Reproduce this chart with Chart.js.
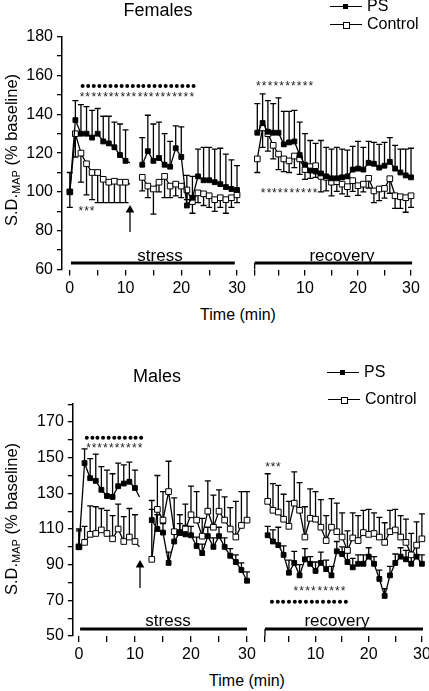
<!DOCTYPE html>
<html lang="en">
<head>
<meta charset="UTF-8" />
<title>S.D.MAP during stress and recovery</title>
<script src="https://cdn.jsdelivr.net/npm/chart.js"></script>
<style>
  body { margin: 0; background: #fff; font-family: "Liberation Sans", Arial, sans-serif; }
  #fig { position: relative; width: 429px; height: 691px; overflow: hidden; background: #fff; }
  #fig canvas { position: absolute; }
  .txt { position: absolute; transform: translate(-50%, -50%); white-space: nowrap; color: #000; line-height: 1; }
  .title { font-size: 18px; }
  .axt { font-size: 16px; }
  .phase { font-size: 17px; }
  .ytitle { font-size: 16.5px; transform: translate(-50%, -50%) rotate(-90deg); }
  .ytitle sub { font-size: 11px; vertical-align: -3px; }
  .leg { position: absolute; font-size: 16px; line-height: 1; white-space: nowrap; transform: translateY(-50%); }
  .leg .ln { display: inline-block; position: relative; width: 32px; height: 1.3px; background: #000; vertical-align: middle; margin-right: 5px; }
  .leg .sq { position: absolute; left: 13px; top: -2px; width: 5px; height: 5px; background: #000; }
  .leg .sq.open { background: #fff; border: 1px solid #000; top: -2.5px; }
</style>
</head>
<body>
<div id="fig">
  <canvas id="femStress" width="252" height="300" style="left:0;top:0"></canvas>
  <canvas id="femRec" width="189" height="300" style="left:240px;top:0"></canvas>
  <canvas id="maleStress" width="262" height="336" style="left:0;top:330px"></canvas>
  <canvas id="maleRec" width="179" height="336" style="left:250px;top:330px"></canvas>

  <div class="txt title" style="left:158px;top:10px">Females</div>
  <div class="leg" style="left:330px;top:6px"><span class="ln"><i class="sq"></i></span>PS</div>
  <div class="leg" style="left:330px;top:24px"><span class="ln"><i class="sq open"></i></span>Control</div>
  <div class="txt ytitle" style="left:12px;top:150px">S.D.<sub>MAP</sub> (% baseline)</div>
  <div class="txt phase" style="left:160px;top:255px">stress</div>
  <div class="txt phase" style="left:342px;top:255px">recovery</div>
  <div class="txt axt" style="left:238px;top:315px">Time (min)</div>

  <div class="txt title" style="left:157px;top:376px">Males</div>
  <div class="leg" style="left:327px;top:372px"><span class="ln"><i class="sq"></i></span>PS</div>
  <div class="leg" style="left:328px;top:399px"><span class="ln"><i class="sq open"></i></span>Control</div>
  <div class="txt ytitle" style="left:12px;top:519px">S.D.<sub>MAP</sub> (% baseline)</div>
  <div class="txt phase" style="left:168px;top:620px">stress</div>
  <div class="txt phase" style="left:337px;top:620px">recovery</div>
  <div class="txt axt" style="left:247px;top:681px">Time (min)</div>
</div>

<script>
  // time points (min); 10.8 is the end of the first stress segment (line only), 12 breaks the line
  const stressTimes = [0,1,2,3,4,5,6,7,8,9,10,10.8,12,13,14,15,16,17,18,19,20,21,22,23,24,25,26,27,28,29,30];
  const recoveryTimes = [1,2,3,4,5,6,7,8,9,10,11,12,13,14,15,16,17,18,19,20,21,22,23,24,25,26,27,28,29,30];

  // axis ticks
  const stressXTicks = [0,5,10,15,20,25,30];
  const stressXLabels = [0,10,20,30];
  const recXTicks = [0.5,5,10,15,20,25,30];
  const recXLabels = [10,20,30];
  const femYTicks = [60,70,80,90,100,110,120,130,140,150,160,170,180];
  const femYLabels = [60,80,100,120,140,160,180];
  const maleYTicks = [50,60,70,80,90,100,110,120,130,140,150,160,170,180];
  const maleYLabels = [50,70,90,110,130,150,170];

  // females
  const femPsStress = [100,137,130,130,128,130,126,125,123,119,116,115,null,114,121,116,117.5,114,113,122.5,118,93,97,108,106,106,105,104,102.5,101.5,101];
  const femPsStressErr = [10,10,15,14,14,13,13,14,13,16,16,null,null,14,18.5,19,18.5,16,13,11.5,15.5,15.5,11,14,17,17,17,18.5,17,15,12.5];
  const femCtlStress = [100,130,120,114.5,110,110,106.5,105,105.5,105,105,104,null,107.5,103,101.5,105,108,103,104,103,101,95,99.5,99,98,96,97,96,97,98.5];
  const femCtlStressErr = [8,12,15,16,14,15.5,12,10.5,11,10.5,10.5,null,null,7,6,13,5,11,6,6,6,5,6,5,6,6,6,5,7,5,4];
  const femPsRec = [130.5,135.5,131,130.5,130.5,124.5,125.5,126,119,114,111,110.5,109.5,108,107,107,107.5,108,111.5,112,111.5,115,114.5,112.5,113.5,115.5,112,110,108.5,107.5];
  const femPsRecErr = [15,15,16,15,18,17,16,16,17,16,15.5,14.5,17,15,15,16,14.5,13.5,12,14,11.5,11,11,12,12,12.5,12,12,13.5,15];
  const femCtlRec = [117,133,130,124,119.5,117,116,118.5,117,111.5,113,113.5,108,107.5,105,105.3,104,102.7,105.8,103.2,104,107,100.5,101.5,101.8,106.8,98,97.5,97,98];
  const femCtlRecErr = [7,10,9,7,8,6.5,6,6,8,5,6,6,8,7,7,5,5,5,5.5,5,4,5,6,6,5,7.5,6.5,6,7.5,6];

  // males
  const malePsStress = [100,147,138.5,137,132,128.5,128,134,135.5,136.5,133,128,null,115,110,108,91,103,108,107,106.5,100.5,96.5,106,100,106,100,95,91.5,87,81];
  const malePsStressErr = [10,8,11,15,13,14.5,13,13,10.5,11,10,null,null,6,8,5,6,6,5,5,5,5,5,5,5,5,5,4,4,4,5];
  const maleCtlStress = [100,102.5,107,107.5,109.5,107.5,104.5,110,103,105.5,103,100,null,93,121,115,131,108.5,108,110,118,115,106,120,111,120,115,110,105.5,112,115];
  const maleCtlStressErr = [9,9,16,15,12,13,13,14,14,16,15,null,null,33,19,16,17,19,10,14,16,16,10,17,18,12,13,12,20,19,16];
  const malePsRec = [106.5,103,101,95.5,85.5,91,84,93,90.5,86.5,91,87.5,84,97.5,96,91.5,88.5,90.5,90.5,94.5,90.5,82,72.5,84,91,94.5,93,90.5,94.5,90.5];
  const malePsRecErr = [5,6.5,10,5,7,6.5,6,6,4,5,6,5,5,5.5,4,5,5,5,5,5,4,5,4,5,5,5,5,5,5,5];
  const maleCtlRec = [125.5,120.5,119.5,115.5,111.5,124.5,120.5,105.5,116,115.5,111,103.5,111,108.5,105.5,98,105,103.5,108,107,107.5,105.5,102.5,108.5,109.5,105.5,102.5,95.5,101,104.5];
  const maleCtlRecErr = [15.5,15,15,14,14,17.5,15.5,17,16.5,15.5,15.5,14,16,16,13.5,11,14,14,12.5,14,11.5,11,11,12,11.5,12,13,12,13,14];

  // significance marks (x in min, y in % baseline)
  const femStressDotsX = [2.3,3.3,4.3,5.3,6.3,7.3,8.3,9.3,10.3,11.3,12.3,13.2,14.2,15.2,16.2,17.2,18.2,19.2,20.2,21.2,22.2];
  const femStressDotsY = 154.6;
  const femStressStarsX = [2.2,3.2,4.3,5.3,6.4,7.4,8.4,9.5,10.5,11.5,12.6,13.6,14.6,15.7,16.7,17.7,18.8,19.8,20.8,21.9];
  const femStressStarsY = 150.2;
  const femStressLowStarsX = [2,3,4];
  const femStressLowStarsY = 91.5;
  const femRecHiStarsX = [1.2,2.3,3.4,4.5,5.6,6.7,7.8,8.9,10,11.1];
  const femRecHiStarsY = 156;
  const femRecLoStarsX = [2.1,3.2,4.2,5.3,6.4,7.5,8.6,9.7,10.8,11.9];
  const femRecLoStarsY = 100.6;
  const maleStressDotsX = [1.4,2.4,3.3,4.3,5.3,6.3,7.2,8.2,9.2,10.1,11.1];
  const maleStressDotsY = 161.2;
  const maleStressStarsX = [1.7,2.7,3.7,4.7,5.8,6.8,7.8,8.8,9.9,10.9];
  const maleStressStarsY = 156.5;
  const maleRecHiStarsX = [1,2,3];
  const maleRecHiStarsY = 146;
  const maleRecLoStarsX = [6.3,7.4,8.5,9.6,10.8,11.9,13,14.1,15.2];
  const maleRecLoStarsY = 76.7;
  const maleRecDotsX = [1.8,2.9,3.9,5,6.1,7.1,8.2,9.3,10.3,11.4,12.5,13.5,14.6,15.7];
  const maleRecDotsY = 69.2;

  // stress / recovery bars and arrows
  const femStressBarX = [0.2,29.6];
  const maleStressBarX = [0.2,30];
  const recBarX = [0.5,30.2];
  const femBarY = 63.3;
  const maleBarY = 53.9;
  const femArrowX = 10.8, femArrowY = [79.3,90.7];
  const maleArrowX = 10.9, maleArrowY = [76.9,89.8];

  const BLACK = "#000";
  const FONT = '"Liberation Sans", Arial, sans-serif';

  function pts(times, vals) {
    return times.map((t, i) => ({ x: t, y: vals[i] }));
  }

  function series(times, vals, errs, errDir, filled) {
    return {
      data: pts(times, vals),
      errs: errs,
      errDir: errDir,
      borderColor: BLACK,
      borderWidth: 1.3,
      tension: 0,
      pointStyle: "rect",
      pointRadius: c => (c.raw && Number.isInteger(c.raw.x)) ? (filled ? 3.4 : 4) : 0,
      pointBackgroundColor: filled ? BLACK : "#fff",
      pointBorderColor: BLACK,
      pointBorderWidth: 1,
      clip: false
    };
  }

  function dots(xs, yv) {
    return {
      data: xs.map(t => ({ x: t, y: yv })),
      showLine: false,
      pointStyle: "circle",
      pointRadius: 2,
      pointBackgroundColor: BLACK,
      pointBorderWidth: 0,
      clip: false
    };
  }

  function phaseBar(xs, yv) {
    return {
      data: xs.map(t => ({ x: t, y: yv })),
      borderColor: BLACK,
      borderWidth: 3,
      pointRadius: 0,
      clip: false
    };
  }

  // thin end line joining the recovery bar to the axis start
  function barCap(xv, y0, y1) {
    return {
      data: [{ x: xv, y: y0 }, { x: xv, y: y1 }],
      borderColor: BLACK,
      borderWidth: 1.3,
      pointRadius: 0,
      clip: false
    };
  }

  function arrow(xv, ys) {
    return {
      data: ys.map(v => ({ x: xv, y: v })),
      borderColor: BLACK,
      borderWidth: 1.3,
      pointStyle: "triangle",
      pointRadius: [0, 5],
      pointBackgroundColor: BLACK,
      pointBorderWidth: 0,
      clip: false
    };
  }

  // vertical error bars with caps, drawn under the markers
  const errorBars = {
    id: "errorBars",
    beforeDatasetsDraw(chart) {
      const { ctx, scales: { x, y } } = chart;
      ctx.save();
      ctx.strokeStyle = BLACK;
      ctx.lineWidth = 1.3;
      chart.data.datasets.forEach(ds => {
        if (!ds.errs) return;
        ds.data.forEach((p, i) => {
          const e = ds.errs[i];
          if (p.y == null || e == null) return;
          const px = x.getPixelForValue(p.x);
          const y0 = y.getPixelForValue(p.y);
          const y1 = y.getPixelForValue(p.y + ds.errDir * e);
          ctx.beginPath();
          ctx.moveTo(px, y0);
          ctx.lineTo(px, y1);
          ctx.moveTo(px - 3, y1);
          ctx.lineTo(px + 3, y1);
          ctx.stroke();
        });
      });
      ctx.restore();
    }
  };

  // rows of asterisks
  const starText = {
    id: "stars",
    afterDatasetsDraw(chart, args, opts) {
      const { ctx, scales: { x, y } } = chart;
      ctx.save();
      ctx.fillStyle = "#222";
      ctx.font = "12px " + FONT;
      ctx.textAlign = "center";
      ctx.textBaseline = "middle";
      (opts.rows || []).forEach(r => {
        r.xs.forEach(t => ctx.fillText("*", x.getPixelForValue(t), y.getPixelForValue(r.y) + 3));
      });
      ctx.restore();
    }
  };

  function xScale(min, max, ticks, labels, height) {
    return {
      type: "linear",
      min: min,
      max: max,
      afterBuildTicks: s => { s.ticks = ticks.map(v => ({ value: v })); },
      afterFit: s => { s.height = height; s.paddingLeft = 0; s.paddingRight = 0; },
      grid: { drawOnChartArea: false, drawTicks: true, tickLength: 6, color: BLACK, lineWidth: 1.3 },
      border: { display: false },
      ticks: {
        color: BLACK, font: { family: FONT, size: 16 }, padding: 3, maxRotation: 0, autoSkip: false,
        callback: v => labels.includes(v) ? String(v) : ""
      }
    };
  }

  function yScale(min, max, ticks, labels, width, show) {
    return {
      type: "linear",
      display: show,
      min: min,
      max: max,
      afterBuildTicks: s => { s.ticks = ticks.map(v => ({ value: v })); },
      afterFit: s => { s.width = width; s.paddingTop = 0; s.paddingBottom = 0; },
      grid: { drawOnChartArea: false, drawTicks: true, tickLength: 5, color: BLACK, lineWidth: 1.3 },
      border: { display: true, color: BLACK, width: 1.5 },
      ticks: {
        color: BLACK, font: { family: FONT, size: 16 }, padding: 4, autoSkip: false,
        callback: v => labels.includes(v) ? String(v) : ""
      }
    };
  }

  function makeChart(id, datasets, x, y, padding, rows) {
    return new Chart(document.getElementById(id), {
      type: "line",
      data: { datasets: datasets },
      options: {
        responsive: false,
        animation: false,
        events: [],
        layout: { padding: padding },
        scales: { x: x, y: y },
        plugins: { legend: { display: false }, tooltip: { enabled: false }, stars: { rows: rows } }
      },
      plugins: [errorBars, starText]
    });
  }

  // Females
  makeChart("femStress", [
    series(stressTimes, femPsStress, femPsStressErr, 1, true),
    series(stressTimes, femCtlStress, femCtlStressErr, -1, false),
    dots(femStressDotsX, femStressDotsY),
    phaseBar(femStressBarX, femBarY),
    arrow(femArrowX, femArrowY)
  ],
    xScale(-1.4, 30.3, stressXTicks, stressXLabels, 30.5),
    yScale(60, 180, femYTicks, femYLabels, 62, true),
    { left: 0, right: 13.3, top: 36.7, bottom: 0 },
    [{ xs: femStressStarsX, y: femStressStarsY }, { xs: femStressLowStarsX, y: femStressLowStarsY }]
  );

  makeChart("femRec", [
    series(recoveryTimes, femPsRec, femPsRecErr, 1, true),
    series(recoveryTimes, femCtlRec, femCtlRecErr, -1, false),
    phaseBar(recBarX, femBarY),
    barCap(recBarX[0], 60, femBarY)
  ],
    xScale(0.5, 30.3, recXTicks, recXLabels, 30.5),
    yScale(60, 180, femYTicks, femYLabels, 0, false),
    { left: 14.65, right: 16.4, top: 36.7, bottom: 0 },
    [{ xs: femRecHiStarsX, y: femRecHiStarsY }, { xs: femRecLoStarsX, y: femRecLoStarsY }]
  );

  // Males
  makeChart("maleStress", [
    series(stressTimes, malePsStress, malePsStressErr, 1, true),
    series(stressTimes, maleCtlStress, maleCtlStressErr, 1, false),
    dots(maleStressDotsX, maleStressDotsY),
    phaseBar(maleStressBarX, maleBarY),
    arrow(maleArrowX, maleArrowY)
  ],
    xScale(-1.1, 30.3, stressXTicks, stressXLabels, 30),
    yScale(50, 180, maleYTicks, maleYLabels, 72.8, true),
    { left: 0, right: 13.3, top: 74.2, bottom: 0 },
    [{ xs: maleStressStarsX, y: maleStressStarsY }]
  );

  makeChart("maleRec", [
    series(recoveryTimes, malePsRec, malePsRecErr, 1, true),
    series(recoveryTimes, maleCtlRec, maleCtlRecErr, 1, false),
    dots(maleRecDotsX, maleRecDotsY),
    phaseBar(recBarX, maleBarY),
    barCap(recBarX[0], 50, maleBarY)
  ],
    xScale(0.5, 30.3, recXTicks, recXLabels, 30),
    yScale(50, 180, maleYTicks, maleYLabels, 0, false),
    { left: 15, right: 5.5, top: 74.2, bottom: 0 },
    [{ xs: maleRecHiStarsX, y: maleRecHiStarsY }, { xs: maleRecLoStarsX, y: maleRecLoStarsY }]
  );
</script>
</body>
</html>
